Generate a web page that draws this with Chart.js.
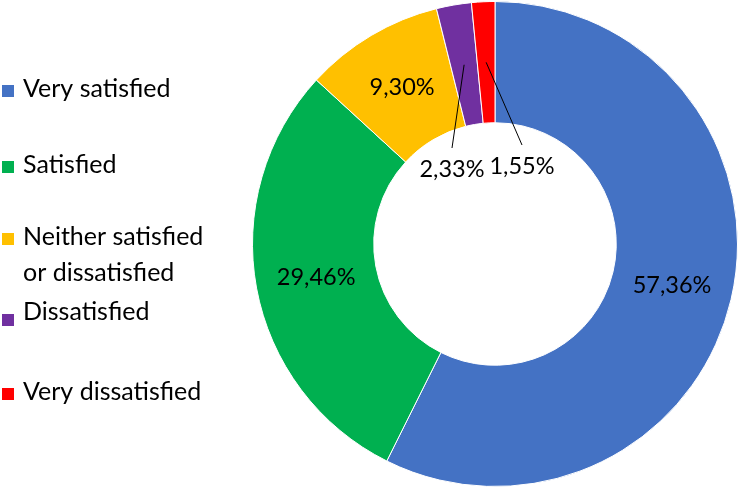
<!DOCTYPE html>
<html>
<head>
<meta charset="utf-8">
<script src="https://cdn.jsdelivr.net/npm/chart.js@4"></script>
<style>
  html, body { margin: 0; padding: 0; background: #ffffff; }
  #wrap { width: 739px; height: 488px; position: relative; }
</style>
</head>
<body>
<div id="wrap"><canvas id="chart"></canvas></div>
<script>
// categories and values
const categories = ["Very satisfied", "Satisfied", "Neither satisfied or dissatisfied", "Dissatisfied", "Very dissatisfied"];
const legendLines = [["Very satisfied"], ["Satisfied"], ["Neither satisfied", "or dissatisfied"], ["Dissatisfied"], ["Very dissatisfied"]];
const shares = [57.36, 29.46, 9.30, 2.33, 1.55];
const sliceColors = ["#4472C4", "#00B050", "#FFC000", "#7030A0", "#FF0000"];

const FONT = "Lato, 'DejaVu Sans', sans-serif";

// percentage labels, with leader lines for the two thin slices
const labelPlugin = {
  id: "sliceLabels",
  afterDatasetsDraw(chart) {
    const ctx = chart.ctx;
    const meta = chart.getDatasetMeta(0);
    // where the leader-lined labels sit, relative to the centre
    const outside = { 3: { dx: -43, dy: -76 }, 4: { dx: 27, dy: -79 } };
    ctx.save();
    ctx.font = "23.5px " + FONT;
    ctx.fillStyle = "#000000";
    ctx.textAlign = "center";
    ctx.textBaseline = "middle";
    meta.data.forEach((arc, i) => {
      const p = arc.getProps(["x", "y", "startAngle", "endAngle", "innerRadius", "outerRadius"], true);
      const mid = (p.startAngle + p.endAngle) / 2;
      const r = (p.innerRadius + p.outerRadius) / 2;
      const txt = shares[i].toFixed(2).replace(".", ",") + "%";
      const ax = p.x + Math.cos(mid) * r;
      const ay = p.y + Math.sin(mid) * r;
      if (outside[i]) {
        const lx = p.x + outside[i].dx;
        const ly = p.y + outside[i].dy;
        ctx.beginPath();
        ctx.strokeStyle = "#000000";
        ctx.lineWidth = 1;
        ctx.moveTo(ax, ay);
        ctx.lineTo(lx, ly - 20);
        ctx.stroke();
        ctx.fillText(txt, lx, ly + 1);
      } else {
        ctx.fillText(txt, ax, ay);
      }
    });
    ctx.restore();
  }
};

// legend on the left, Excel style
const legendPlugin = {
  id: "sideLegend",
  afterDraw(chart) {
    const ctx = chart.ctx;
    const rows = [89, 165, 237, 312, 392];
    ctx.save();
    ctx.font = "25px " + FONT;
    ctx.textAlign = "left";
    ctx.textBaseline = "middle";
    legendLines.forEach((lines, i) => {
      ctx.fillStyle = sliceColors[i];
      const sq = i === 3 ? rows[i] + 8 : rows[i] + 2;
      ctx.fillRect(2, sq - 6, 12, 12);
      ctx.fillStyle = "#000000";
      lines.forEach((t, k) => ctx.fillText(t, 23, rows[i] + k * 36));
    });
    ctx.restore();
  }
};

new Chart(document.getElementById("chart"), {
  type: "doughnut",
  data: {
    labels: categories,
    datasets: [{
      data: shares,
      backgroundColor: sliceColors,
      borderColor: "#ffffff",
      borderWidth: 1
    }]
  },
  options: {
    responsive: true,
    maintainAspectRatio: false,
    animation: false,
    cutout: "50%",
    layout: { padding: { left: 252, right: 1, top: 0, bottom: 0 } },
    plugins: {
      legend: { display: false },
      tooltip: { enabled: false }
    }
  },
  plugins: [labelPlugin, legendPlugin]
});
</script>
</body>
</html>
